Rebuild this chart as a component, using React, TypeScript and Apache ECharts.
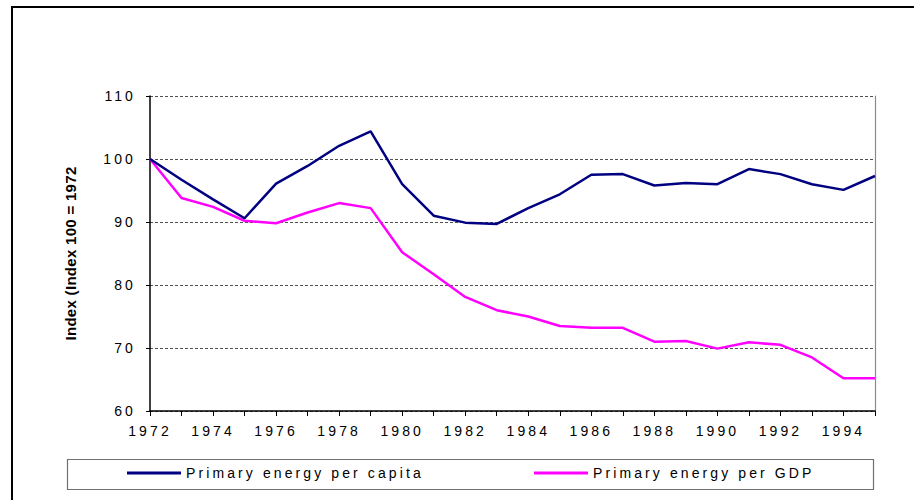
import React, { useEffect, useRef } from "react";
import * as echarts from "echarts";

const years = [
  "1972", "1973", "1974", "1975", "1976", "1977", "1978", "1979", "1980", "1981", "1982", "1983",
  "1984", "1985", "1986", "1987", "1988", "1989", "1990", "1991", "1992", "1993", "1994", "1995",
];
const perCapita = [
  100, 96.7, 93.6, 90.6, 96.1, 98.9, 102.1, 104.4, 96.0, 91.0, 89.9, 89.7,
  92.2, 94.4, 97.5, 97.6, 95.8, 96.2, 96.0, 98.4, 97.6, 96.0, 95.1, 97.3,
];
const perGDP = [
  100, 93.8, 92.4, 90.2, 89.8, 91.5, 93.0, 92.2, 85.2, 81.7, 78.1, 76.0,
  75.0, 73.5, 73.2, 73.2, 71.0, 71.1, 69.9, 70.9, 70.5, 68.5, 65.2, 65.2,
];
const seriesNames = ["Primary energy per capita", "Primary energy per GDP"];
const yAxisTitle = "Index (Index 100 = 1972";

const FONT = "'Liberation Sans', Arial, sans-serif";

export default function App() {
  const ref = useRef<HTMLDivElement>(null);
  useEffect(() => {
    if (!ref.current) return;
    const chart = echarts.init(ref.current, null, { renderer: "svg" });
    const legendCommon = {
      top: 466,
      padding: 0,
      itemWidth: 54,
      itemHeight: 3,
      itemGap: 5,
      icon: "rect",
      textStyle: { fontSize: 14, fontFamily: FONT, color: "#000000" },
    };
    chart.setOption({
      animation: false,
      backgroundColor: "#ffffff",
      grid: { left: 150, right: 39, top: 96, bottom: 89, containLabel: false },
      xAxis: {
        type: "category",
        data: years,
        boundaryGap: false,
        axisLine: { show: true, lineStyle: { color: "#000000", width: 1.5 } },
        axisTick: { show: true, interval: 0, length: 5, lineStyle: { color: "#000000" } },
        axisLabel: {
          interval: 1,
          margin: 13,
          color: "#000000",
          fontSize: 14,
          fontFamily: FONT,
        },
        splitLine: { show: false },
      },
      yAxis: [
        {
          type: "value",
          min: 60,
          max: 110,
          interval: 10,
          name: yAxisTitle,
          nameLocation: "middle",
          nameRotate: 90,
          nameGap: 72,
          nameTextStyle: { fontSize: 15, fontWeight: "bold", fontFamily: FONT, color: "#000000" },
          axisLine: { show: true, lineStyle: { color: "#000000", width: 1.5 } },
          axisTick: { show: true, length: 4, lineStyle: { color: "#000000" } },
          axisLabel: { margin: 14, color: "#000000", fontSize: 14, fontFamily: FONT },
          splitLine: { show: true, lineStyle: { color: "#505050", type: [3, 2], width: 1.2 } },
        },
        {
          type: "value",
          min: 60,
          max: 110,
          interval: 10,
          position: "right",
          axisLine: { show: true, lineStyle: { color: "#8a8a8a", width: 1.2 } },
          axisTick: { show: false },
          axisLabel: { show: false },
          splitLine: { show: false },
        },
      ],
      legend: [
        { ...legendCommon, data: [seriesNames[0]], left: 127 },
        { ...legendCommon, data: [seriesNames[1]], left: 534 },
      ],
      graphic: [
        {
          type: "rect",
          shape: { x: 12, y: 7, width: 1000, height: 1000 },
          style: { fill: "none", stroke: "#000000", lineWidth: 2 },
          silent: true,
        },
        {
          type: "rect",
          shape: { x: 67.5, y: 459.5, width: 806, height: 30 },
          style: { fill: "none", stroke: "#707070", lineWidth: 1.2 },
          silent: true,
        },
      ],
      series: [
        {
          name: seriesNames[0],
          type: "line",
          data: perCapita,
          symbol: "none",
          lineStyle: { color: "#000080", width: 2.5 },
          itemStyle: { color: "#000080" },
          z: 3,
        },
        {
          name: seriesNames[1],
          type: "line",
          data: perGDP,
          symbol: "none",
          lineStyle: { color: "#ff00ff", width: 2.5 },
          itemStyle: { color: "#ff00ff" },
          z: 2,
        },
      ],
    });
    return () => chart.dispose();
  }, []);
  return (
    <div className="ec-wrap">
      <style>{`
        .ec-wrap text { letter-spacing: 3.1px; }
        .ec-wrap text[style*="bold"], .ec-wrap text[font-weight="bold"] { letter-spacing: 0.3px; }
      `}</style>
      <div
        ref={ref}
        style={{ position: "absolute", left: 0, top: 0, width: 914, height: 500 }}
      />
    </div>
  );
}
